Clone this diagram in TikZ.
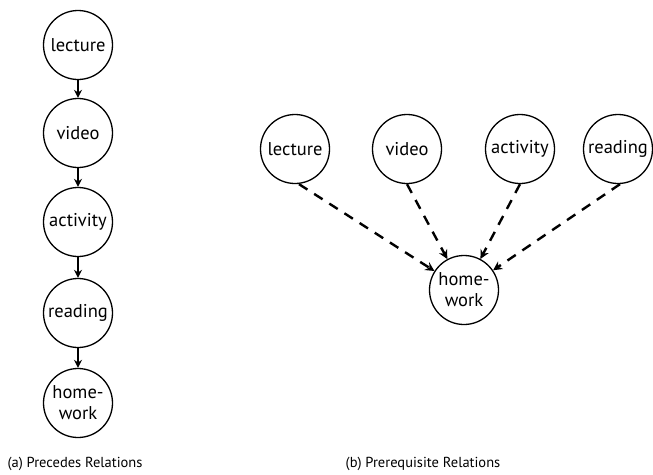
\documentclass[tikz,border=0pt]{standalone}
\usepackage{fontspec}
\setmainfont{PT Sans}
\usetikzlibrary{arrows.meta}
\begin{document}
\begin{tikzpicture}[x=1pt,y=-1pt,
  state/.style={circle,draw,line width=1.3pt,minimum size=69pt,inner sep=0pt,align=center,font=\fontsize{18.5}{21}\selectfont},
  prec/.style={-{Stealth[length=8pt,width=8pt]},line width=1.8pt},
  prereq/.style={-{Stealth[length=9pt,width=9pt]},line width=2.4pt,dash pattern=on 10pt off 8pt},
  captext/.style={font=\fontsize{14.5}{14.5}\selectfont,anchor=base}]
\useasboundingbox (0,0) rectangle (653,474);
% (a)
\node[state] (l1) at (78,45) {lecture};
\node[state] (v1) at (78,133) {video};
\node[state] (a1) at (78,222) {activity};
\node[state] (r1) at (78,313) {reading};
\node[state] (h1) at (78,403) {home-\\work};
\draw[prec] (l1) -- (v1);
\draw[prec] (v1) -- (a1);
\draw[prec] (a1) -- (r1);
\draw[prec] (r1) -- (h1);
\node[captext] (ca) at (75,467) {(a) Precedes Relations};
% (b)
\node[state] (l2) at (295,149) {lecture};
\node[state] (v2) at (407,149) {video};
\node[state] (a2) at (520,149) {activity};
\node[state] (r2) at (618,149) {reading};
\node[state] (h2) at (464,290) {home-\\work};
\draw[prereq] ([xshift=4pt]l2.south) -- (h2);
\draw[prereq] (v2.south) -- (h2);
\draw[prereq] (a2.south) -- (h2);
\draw[prereq] ([xshift=2pt]r2.south) -- (h2);
\node[captext] (cb) at (423,467) {(b) Prerequisite Relations};
\end{tikzpicture}
\end{document}
